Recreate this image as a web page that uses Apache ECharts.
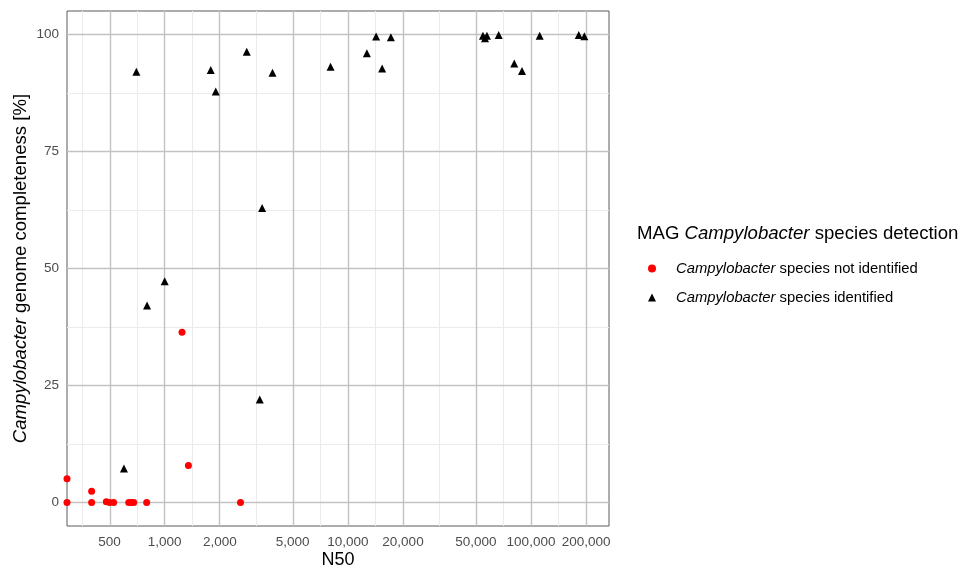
<!DOCTYPE html>
<html><head><meta charset="utf-8">
<script src="https://cdn.jsdelivr.net/npm/echarts@6/dist/echarts.min.js"></script>
<style>html,body{margin:0;padding:0;background:#fff}#c{width:960px;height:571px}</style>
</head><body><div id="c"></div>
<script>
// N50 = 0 is drawn at the left panel edge (log10(0) = -Inf, as ggplot does)
const notIdN50 = [0, 0, 399, 399, 480, 500, 526, 636, 658, 677, 797, 2593, 1347, 1243];
const notIdCompl = [5.1, 0, 2.4, 0, 0.2, 0, 0, 0, 0, 0, 0, 0, 7.9, 36.4];
const idN50 = [700, 1784, 2805, 3877, 1900, 8044, 12700, 14270, 17180, 15390, 54660, 57480, 56060, 66600, 81030, 89290, 111560, 182300, 195600, 599, 1000, 801, 3304, 3402];
const idCompl = [92.0, 92.4, 96.3, 91.8, 87.8, 93.1, 96.0, 99.55, 99.4, 92.7, 99.7, 99.7, 99.2, 99.9, 93.8, 92.2, 99.7, 99.85, 99.6, 7.3, 47.3, 42.1, 22.0, 62.9];
const xTicks = [500, 1000, 2000, 5000, 10000, 20000, 50000, 100000, 200000];
const yTicks = [0, 25, 50, 75, 100];
const yMinor = [12.5, 37.5, 62.5, 87.5];
const seriesNames = ['Campylobacter species not identified', 'Campylobacter species identified'];

const FONT = '"Liberation Sans", Arial, sans-serif';
const lg = Math.log10;
// x range: data range in log space + 5% expansion each side
const posX = notIdN50.concat(idN50).filter(v => v > 0).map(lg);
const dMin = Math.min(...posX), dMax = Math.max(...posX);
const ex = (dMax - dMin) * 0.05;
const xMin = dMin - ex, xMax = dMax + ex;
const yMin = -5, yMax = 105;

const tx = v => v > 0 ? lg(v) : xMin;
const xMajor = xTicks.map(lg);
// minor breaks: midpoints between majors (one extra major before the first)
const ext = [xMajor[0] - (xMajor[1] - xMajor[0])].concat(xMajor);
const xMinor = [];
for (let i = 0; i < ext.length - 1; i++) {
  const m = (ext[i] + ext[i + 1]) / 2;
  if (m > xMin && m < xMax) xMinor.push(m);
}

const lineMinor = {color: '#ebebeb', width: 1, type: 'solid'};
const lineMajor = {color: '#c2c2c2', width: 1.4, type: 'solid'};
const gridLines = []
  .concat(xMinor.map(v => ({xAxis: v, lineStyle: lineMinor})))
  .concat(yMinor.map(v => ({yAxis: v, lineStyle: lineMinor})))
  .concat(xMajor.map(v => ({xAxis: v, lineStyle: lineMajor})))
  .concat(yTicks.map(v => ({yAxis: v, lineStyle: lineMajor})));

const fmtX = v => Math.round(Math.pow(10, v)).toLocaleString('en-US');

const chart = echarts.init(document.getElementById('c'), null, {renderer: 'canvas'});
chart.setOption({
  animation: false,
  backgroundColor: '#fff',
  textStyle: {fontFamily: FONT},
  title: {
    left: 637, top: 224, padding: 0,
    text: '{n|MAG }{i|Campylobacter}{n| species detection}',
    textStyle: {
      fontWeight: 'normal',
      rich: {
        n: {fontSize: 18.6, color: '#000', fontFamily: FONT, fontWeight: 'normal'},
        i: {fontSize: 18.6, color: '#000', fontStyle: 'italic', fontFamily: FONT, fontWeight: 'normal'}
      }
    }
  },
  legend: {
    orient: 'vertical', padding: 0,
    left: 648, top: 261,
    itemWidth: 8, itemHeight: 8, itemGap: 14,
    data: [{name: seriesNames[0], icon: 'circle'}, {name: seriesNames[1], icon: 'triangle'}],
    formatter: name => '{s|}{i|Campylobacter}{n|' + name.slice('Campylobacter'.length) + '}',
    textStyle: {
      rich: {
        s: {width: 15},
        n: {fontSize: 14.8, color: '#000', fontFamily: FONT, lineHeight: 16},
        i: {fontSize: 14.8, color: '#000', fontStyle: 'italic', fontFamily: FONT, lineHeight: 16}
      }
    }
  },
  grid: {
    left: 67, right: 351, top: 11, bottom: 45,
    show: true, borderColor: '#5a5a5a', borderWidth: 1, backgroundColor: 'transparent',
    containLabel: false, outerBoundsMode: 'none'
  },
  xAxis: {
    type: 'value', min: xMin, max: xMax,
    name: 'N50', nameLocation: 'middle', nameGap: 25, nameMoveOverlap: false,
    nameTextStyle: {fontSize: 18, color: '#000', fontFamily: FONT},
    axisLine: {show: false}, axisTick: {show: false}, splitLine: {show: false},
    axisLabel: {customValues: xMajor, formatter: fmtX, color: '#4d4d4d', fontSize: 13.5, margin: 9, fontFamily: FONT, hideOverlap: false}
  },
  yAxis: {
    type: 'value', min: yMin, max: yMax,
    name: '{i|Campylobacter}{n| genome completeness [%]}', nameLocation: 'middle', nameGap: 37,
    nameRotate: 90, nameMoveOverlap: false,
    nameTextStyle: {
      rich: {
        n: {fontSize: 18.6, color: '#000', fontFamily: FONT},
        i: {fontSize: 18.6, color: '#000', fontStyle: 'italic', fontFamily: FONT}
      }
    },
    axisLine: {show: false}, axisTick: {show: false}, splitLine: {show: false},
    axisLabel: {customValues: yTicks, color: '#4d4d4d', fontSize: 13.5, margin: 8, fontFamily: FONT}
  },
  series: [
    {
      type: 'scatter', name: '_grid', data: [], silent: true,
      markLine: {silent: true, z: 1, symbol: ['none', 'none'], label: {show: false}, animation: false, data: gridLines}
    },
    {
      type: 'scatter', name: seriesNames[0], symbol: 'circle', symbolSize: 7, z: 3,
      itemStyle: {color: '#ff0000', opacity: 1},
      data: notIdN50.map((v, i) => [tx(v), notIdCompl[i]])
    },
    {
      type: 'scatter', name: seriesNames[1], symbol: 'triangle', symbolSize: 8, z: 3,
      itemStyle: {color: '#000000', opacity: 1},
      data: idN50.map((v, i) => [tx(v), idCompl[i]])
    }
  ]
});
</script>
</body></html>
